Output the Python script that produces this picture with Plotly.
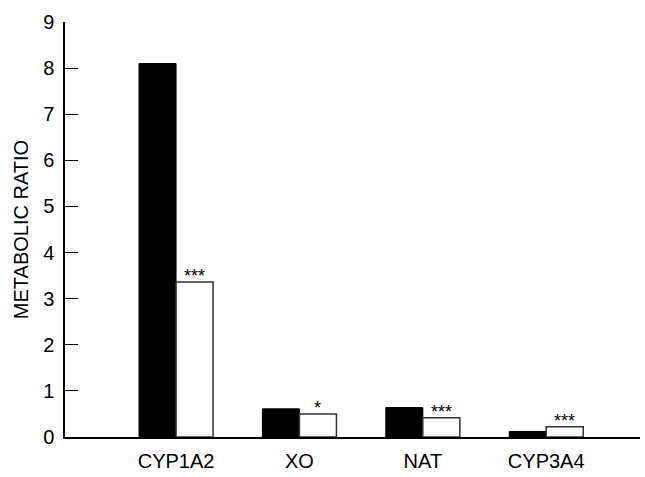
import plotly.graph_objects as go

categories = ["CYP1A2", "XO", "NAT", "CYP3A4"]
group_a = [8.1, 0.61, 0.64, 0.12]
group_b = [3.36, 0.50, 0.42, 0.22]
signif = ["***", "*", "***", "***"]
y_ticks = [0, 1, 2, 3, 4, 5, 6, 7, 8, 9]

FONT = "Liberation Sans, Arial, sans-serif"

fig = go.Figure()
fig.add_trace(go.Bar(x=list(range(len(categories))), y=group_a,
                     marker=dict(color="black", line=dict(color="black", width=1)),
                     showlegend=False))
fig.add_trace(go.Bar(x=list(range(len(categories))), y=group_b,
                     marker=dict(color="white", line=dict(color="#333333", width=1.5)),
                     showlegend=False))

for i, (v, s) in enumerate(zip(group_b, signif)):
    fig.add_annotation(x=i + 0.15, y=v, text=s, showarrow=False,
                       yanchor="bottom", yshift=-6,
                       font=dict(family=FONT, size=18, color="black"))

fig.update_layout(
    width=645, height=477,
    margin=dict(l=65, r=5, t=22, b=34),
    paper_bgcolor="white", plot_bgcolor="white",
    barmode="group", bargap=0.40, bargroupgap=0,
    font=dict(family=FONT, size=20, color="black"),
)
fig.update_xaxes(
    range=[-0.9, 3.76],
    tickvals=list(range(len(categories))), ticktext=categories,
    showline=True, linecolor="black", linewidth=1.5,
    ticks="", showgrid=False, zeroline=False,
    tickfont=dict(family=FONT, size=20),
    ticklabelstandoff=5,
)
fig.update_yaxes(
    range=[0, 9], tickvals=y_ticks,
    showline=True, linecolor="black", linewidth=1.5,
    ticks="inside", ticklen=13, tickwidth=1.2, tickcolor="black",
    showgrid=False, zeroline=False,
    tickfont=dict(family=FONT, size=20),
    ticklabelstandoff=5,
    title=dict(text="METABOLIC RATIO", font=dict(family=FONT, size=20), standoff=9),
)

fig.write_html("out.html", config={"displayModeBar": False},
               post_script="document.body.style.margin='0';document.body.style.overflow='hidden';")
